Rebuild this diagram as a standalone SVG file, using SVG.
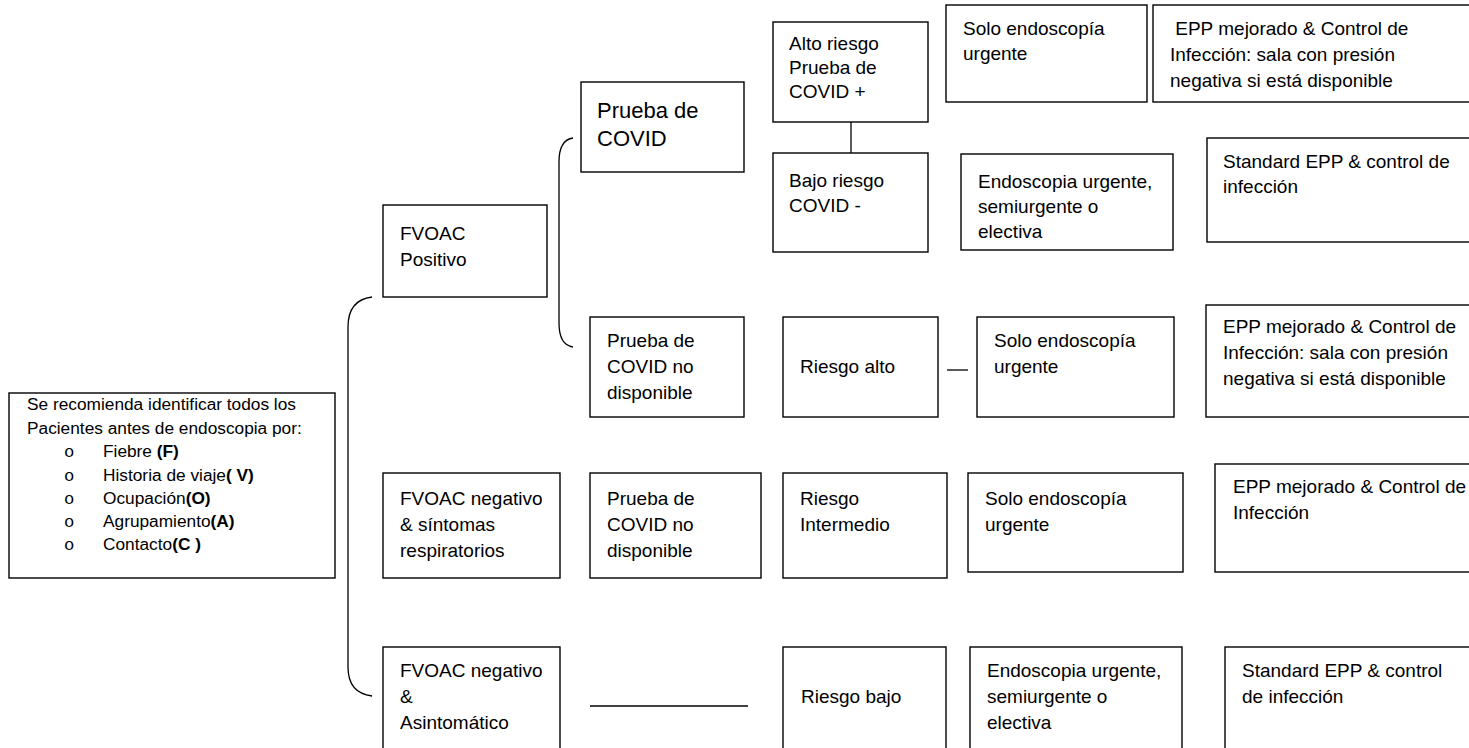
<svg xmlns="http://www.w3.org/2000/svg" width="1469" height="748" viewBox="0 0 1469 748">
<style>
.box{fill:#fff;stroke:#000;stroke-width:1.4}
.t{font-family:"Liberation Sans",Arial,sans-serif;font-size:19px;fill:#000}
.big{font-size:22px}
.sm{font-size:17.3px}
.b{font-weight:bold}
.bul{font-family:"Liberation Mono","Courier New",monospace;font-size:17.3px;fill:#000}
.ln{fill:none;stroke:#000;stroke-width:1.3}
</style>
<rect width="1469" height="748" fill="#fff"/>
<g id="connectors">
<path class="ln" d="M372,297 Q348,300 348,327 L348,667 Q348,693 372,696"/>
<path class="ln" d="M573,138 Q559,140 559,162 L559,323 Q559,345 573,347"/>
<line class="ln" x1="851" y1="122" x2="851" y2="153"/>
<line class="ln" x1="947" y1="370" x2="968" y2="370"/>
<line class="ln" x1="590" y1="706" x2="748" y2="706"/>
</g>
<g id="n-criterios">
<rect class="box" x="9" y="393" width="326" height="185"/>
<text class="t sm" x="27" y="410">Se recomienda identificar todos los</text>
<text class="t sm" x="27" y="434">Pacientes antes de endoscopia por:</text>
<text class="bul" x="64" y="457">o</text><text class="t sm" x="103" y="457">Fiebre <tspan class="b">(F)</tspan></text>
<text class="bul" x="64" y="481">o</text><text class="t sm" x="103" y="481">Historia de viaje<tspan class="b">( V)</tspan></text>
<text class="bul" x="64" y="504">o</text><text class="t sm" x="103" y="504">Ocupación<tspan class="b">(O)</tspan></text>
<text class="bul" x="64" y="527">o</text><text class="t sm" x="103" y="527">Agrupamiento<tspan class="b">(A)</tspan></text>
<text class="bul" x="64" y="550">o</text><text class="t sm" x="103" y="550">Contacto<tspan class="b">(C )</tspan></text>
</g>
<g id="n-fvoac-pos">
<rect class="box" x="383" y="205" width="164" height="92"/>
<text class="t" x="400" y="240">FVOAC</text>
<text class="t" x="400" y="266">Positivo</text>
</g>
<g id="n-prueba">
<rect class="box" x="581" y="82" width="163" height="90"/>
<text class="t big" x="597" y="118">Prueba de</text>
<text class="t big" x="597" y="146">COVID</text>
</g>
<g id="n-alto">
<rect class="box" x="773" y="22" width="155" height="100"/>
<text class="t" x="789" y="50">Alto riesgo</text>
<text class="t" x="789" y="74">Prueba de</text>
<text class="t" x="789" y="98">COVID +</text>
</g>
<g id="n-solo1">
<rect class="box" x="946" y="5" width="201" height="97"/>
<text class="t" x="963" y="35">Solo endoscopía</text>
<text class="t" x="963" y="60">urgente</text>
</g>
<g id="n-epp1">
<rect class="box" x="1153" y="5" width="330" height="97"/>
<text class="t" x="1170" y="35" xml:space="preserve"> EPP mejorado &amp; Control de</text>
<text class="t" x="1170" y="61">Infección: sala con presión</text>
<text class="t" x="1170" y="87">negativa si está disponible</text>
</g>
<g id="n-bajo">
<rect class="box" x="773" y="153" width="155" height="99"/>
<text class="t" x="789" y="187">Bajo riesgo</text>
<text class="t" x="789" y="212">COVID -</text>
</g>
<g id="n-endo1">
<rect class="box" x="961" y="154" width="212" height="96"/>
<text class="t" x="978" y="188">Endoscopia urgente,</text>
<text class="t" x="978" y="213">semiurgente o</text>
<text class="t" x="978" y="238">electiva</text>
</g>
<g id="n-std1">
<rect class="box" x="1207" y="138" width="276" height="104"/>
<text class="t" x="1223" y="168">Standard EPP &amp; control de</text>
<text class="t" x="1223" y="193">infección</text>
</g>
<g id="n-prueba-nd1">
<rect class="box" x="590" y="317" width="154" height="100"/>
<text class="t" x="607" y="347">Prueba de</text>
<text class="t" x="607" y="373">COVID no</text>
<text class="t" x="607" y="399">disponible</text>
</g>
<g id="n-riesgo-alto">
<rect class="box" x="783" y="317" width="155" height="100"/>
<text class="t" x="800" y="373">Riesgo alto</text>
</g>
<g id="n-solo2">
<rect class="box" x="977" y="317" width="197" height="100"/>
<text class="t" x="994" y="347">Solo endoscopía</text>
<text class="t" x="994" y="373">urgente</text>
</g>
<g id="n-epp2">
<rect class="box" x="1206" y="305" width="277" height="112"/>
<text class="t" x="1223" y="333">EPP mejorado &amp; Control de</text>
<text class="t" x="1223" y="359">Infección: sala con presión</text>
<text class="t" x="1223" y="385">negativa si está disponible</text>
</g>
<g id="n-fvoac-neg-sint">
<rect class="box" x="383" y="473" width="177" height="105"/>
<text class="t" x="400" y="505">FVOAC negativo</text>
<text class="t" x="400" y="531">&amp; síntomas</text>
<text class="t" x="400" y="557">respiratorios</text>
</g>
<g id="n-prueba-nd2">
<rect class="box" x="590" y="473" width="171" height="105"/>
<text class="t" x="607" y="505">Prueba de</text>
<text class="t" x="607" y="531">COVID no</text>
<text class="t" x="607" y="557">disponible</text>
</g>
<g id="n-riesgo-int">
<rect class="box" x="783" y="473" width="164" height="105"/>
<text class="t" x="800" y="505">Riesgo</text>
<text class="t" x="800" y="531">Intermedio</text>
</g>
<g id="n-solo3">
<rect class="box" x="968" y="473" width="215" height="99"/>
<text class="t" x="985" y="505">Solo endoscopía</text>
<text class="t" x="985" y="531">urgente</text>
</g>
<g id="n-epp3">
<rect class="box" x="1215" y="464" width="268" height="108"/>
<text class="t" x="1233" y="493">EPP mejorado &amp; Control de</text>
<text class="t" x="1233" y="519">Infección</text>
</g>
<g id="n-fvoac-neg-asint">
<rect class="box" x="383" y="647" width="177" height="110"/>
<text class="t" x="400" y="677">FVOAC negativo</text>
<text class="t" x="400" y="703">&amp;</text>
<text class="t" x="400" y="729">Asintomático</text>
</g>
<g id="n-riesgo-bajo">
<rect class="box" x="783" y="647" width="163" height="110"/>
<text class="t" x="801" y="703">Riesgo bajo</text>
</g>
<g id="n-endo4">
<rect class="box" x="970" y="647" width="212" height="110"/>
<text class="t" x="987" y="677">Endoscopia urgente,</text>
<text class="t" x="987" y="703">semiurgente o</text>
<text class="t" x="987" y="729">electiva</text>
</g>
<g id="n-std4">
<rect class="box" x="1225" y="647" width="258" height="110"/>
<text class="t" x="1242" y="677">Standard EPP &amp; control</text>
<text class="t" x="1242" y="703">de infección</text>
</g>
</svg>
